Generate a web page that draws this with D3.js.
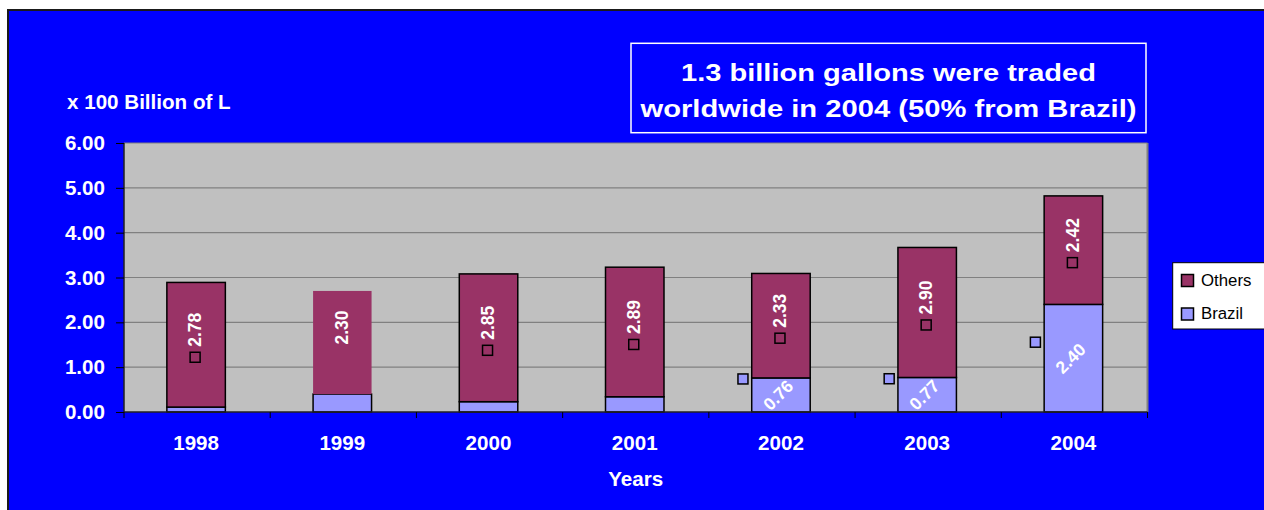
<!DOCTYPE html>
<html>
<head>
<meta charset="utf-8">
<script src="https://cdn.jsdelivr.net/npm/d3@7"></script>
<style>
  html, body { margin: 0; padding: 0; background: #ffffff; }
  svg { display: block; font-family: "Liberation Sans", Arial, sans-serif; }
</style>
</head>
<body>
<svg id="chart" width="1264" height="510"></svg>
<script>
// ---- data ----
const years = ["1998", "1999", "2000", "2001", "2002", "2003", "2004"];
const brazil = [0.11, 0.40, 0.23, 0.34, 0.76, 0.77, 2.40];
const others = [2.78, 2.30, 2.85, 2.89, 2.33, 2.90, 2.42];
const yTicks = [0, 1, 2, 3, 4, 5, 6];
const seriesNames = ["Others", "Brazil"];
const brazilLabelShown = [false, false, false, false, true, true, true];
const othersKeyShown = [true, false, true, true, true, true, true];
const othersOutlined = [true, false, true, true, true, true, true];
const titleLines = ["1.3 billion gallons were traded", "worldwide in 2004 (50% from Brazil)"];
const yAxisTitle = "x 100 Billion of L";
const xAxisTitle = "Years";

// ---- styles ----
const C_BLUE = "#0000ff", C_PLOT = "#c0c0c0", C_GRID = "#808080";
const C_OTHERS = "#993366", C_BRAZIL = "#9999ff";
const AXIS_FS = 20.6;

const svg = d3.select("#chart");

// chart background
svg.append("rect").attr("x", 8).attr("y", 10).attr("width", 1270).attr("height", 520)
  .attr("fill", C_BLUE).attr("stroke", "#1a1a1a").attr("stroke-width", 2);

const plot = { left: 124, right: 1147.5, top: 143, bottom: 412 };

const x = d3.scaleBand().domain(years).range([plot.left, plot.right])
  .paddingInner(0.6).paddingOuter(0.3);
const y = d3.scaleLinear().domain([0, 6]).range([plot.bottom, plot.top]);

// plot area
svg.append("rect").attr("x", plot.left).attr("y", plot.top)
  .attr("width", plot.right - plot.left).attr("height", plot.bottom - plot.top)
  .attr("fill", C_PLOT);
svg.append("line").attr("x1", plot.right).attr("x2", plot.right)
  .attr("y1", plot.top).attr("y2", plot.bottom)
  .attr("stroke", C_GRID).attr("stroke-width", 2);

// gridlines
svg.append("g").selectAll("line").data(yTicks.filter(d => d > 0)).join("line")
  .attr("x1", plot.left).attr("x2", plot.right)
  .attr("y1", d => y(d)).attr("y2", d => y(d))
  .attr("stroke", C_GRID).attr("stroke-width", 1.2);

// stacked bars
const table = years.map((yr, i) => ({ year: yr, Brazil: brazil[i], Others: others[i], i }));
const stacked = d3.stack().keys(["Brazil", "Others"])(table);
const colorOf = { Brazil: C_BRAZIL, Others: C_OTHERS };

const barG = svg.append("g");
stacked.forEach(layer => {
  barG.selectAll(null).data(layer).join("rect")
    .attr("x", d => x(d.data.year) - 1)
    .attr("width", x.bandwidth())
    .attr("y", d => y(d[1]))
    .attr("height", d => y(d[0]) - y(d[1]))
    .attr("fill", colorOf[layer.key])
    .attr("stroke", d => (layer.key === "Others" && !othersOutlined[d.data.i]) ? "none" : "#000")
    .attr("stroke-width", 1.5);
});

// axes
const yAxis = d3.axisLeft(y).tickValues(yTicks).tickFormat(d3.format(".2f"))
  .tickSize(8).tickPadding(11);
const gy = svg.append("g").attr("transform", `translate(${plot.left},0)`).call(yAxis);
gy.select(".domain").attr("stroke", "#222").attr("stroke-width", 1.5)
  .attr("d", `M0,${plot.top}V${plot.bottom + 0.5}`);
gy.selectAll(".tick line").attr("stroke", "#000").attr("stroke-width", 1);
gy.selectAll(".tick text").attr("fill", "#fff").attr("font-size", AXIS_FS)
  .attr("font-weight", "bold").attr("font-family", "Liberation Sans, Arial, sans-serif");

// x axis line + category boundary ticks
const x0 = plot.left;
svg.append("line").attr("x1", plot.left).attr("x2", plot.right)
  .attr("y1", plot.bottom).attr("y2", plot.bottom)
  .attr("stroke", "#222").attr("stroke-width", 1.5);
svg.append("g").selectAll("line").data(d3.range(years.length + 1)).join("line")
  .attr("x1", i => x0 + i * (plot.right - plot.left) / years.length)
  .attr("x2", i => x0 + i * (plot.right - plot.left) / years.length)
  .attr("y1", plot.bottom).attr("y2", plot.bottom + 6)
  .attr("stroke", "#000").attr("stroke-width", 1);
svg.append("g").selectAll("text").data(years).join("text")
  .attr("x", d => x(d) + x.bandwidth() / 2 - 1)
  .attr("y", 449.5)
  .attr("text-anchor", "middle")
  .attr("fill", "#fff").attr("font-size", AXIS_FS).attr("font-weight", "bold")
  .text(d => d);

// axis titles
svg.append("text").attr("x", (plot.left + plot.right) / 2).attr("y", 486)
  .attr("text-anchor", "middle").attr("fill", "#fff")
  .attr("font-size", AXIS_FS).attr("font-weight", "bold").text(xAxisTitle);
svg.append("text").attr("x", 67).attr("y", 108.5)
  .attr("fill", "#fff").attr("font-size", AXIS_FS).attr("font-weight", "bold").text(yAxisTitle);

// data labels: Others (rotated -90) with legend keys
const lblG = svg.append("g");
table.forEach((d, i) => {
  const cx = x(d.year) + x.bandwidth() / 2 - 2;
  const mid = (y(d.Brazil) + y(d.Brazil + d.Others)) / 2;
  lblG.append("text")
    .attr("transform", `translate(${cx},${mid - 15}) rotate(-90)`)
    .attr("text-anchor", "middle").attr("dy", "0.36em")
    .attr("fill", "#fff").attr("font-size", 17.5).attr("font-weight", "bold")
    .text(d3.format(".2f")(d.Others));
  if (othersKeyShown[i]) {
    lblG.append("rect").attr("x", cx - 5).attr("y", mid + 12.5 - 5)
      .attr("width", 10).attr("height", 10)
      .attr("fill", C_OTHERS).attr("stroke", "#000").attr("stroke-width", 1.5);
  }
  if (brazilLabelShown[i]) {
    const bmid = (y(0) + y(d.Brazil)) / 2;
    const bcx = x(d.year) + x.bandwidth() / 2 - 4;
    lblG.append("text")
      .attr("transform", `translate(${bcx},${bmid}) rotate(-45)`)
      .attr("text-anchor", "middle").attr("dy", "0.36em")
      .attr("fill", "#fff").attr("font-size", 17.5).attr("font-weight", "bold")
      .text(d3.format(".2f")(d.Brazil));
    lblG.append("rect").attr("x", bcx - 35 - 5).attr("y", bmid - 16 - 5)
      .attr("width", 10).attr("height", 10)
      .attr("fill", C_BRAZIL).attr("stroke", "#000").attr("stroke-width", 1.5);
  }
});

// title box
svg.append("rect").attr("x", 631).attr("y", 43.3).attr("width", 515).attr("height", 89.4)
  .attr("fill", C_BLUE).attr("stroke", "#fff").attr("stroke-width", 1.5);
const tLens = [415, 496];
const tBase = [80.5, 117];
titleLines.forEach((t, i) => {
  svg.append("text").attr("x", 888.5).attr("y", tBase[i])
    .attr("text-anchor", "middle").attr("fill", "#fff")
    .attr("font-size", 24).attr("font-weight", "bold")
    .attr("textLength", tLens[i]).attr("lengthAdjust", "spacingAndGlyphs")
    .text(t);
});

// legend
const lg = svg.append("g");
lg.append("rect").attr("x", 1172.7).attr("y", 262.7).attr("width", 110).attr("height", 66.3)
  .attr("fill", "#fff").attr("stroke", "#000").attr("stroke-width", 1);
seriesNames.forEach((name, i) => {
  const cy = 280.5 + i * 33.5;
  lg.append("rect").attr("x", 1181.5).attr("y", cy - 6).attr("width", 12).attr("height", 12)
    .attr("fill", colorOf[name]).attr("stroke", "#000").attr("stroke-width", 1.5);
  lg.append("text").attr("x", 1201).attr("y", cy + 5)
    .attr("fill", "#000").attr("font-size", 16.8).text(name);
});
</script>
</body>
</html>
